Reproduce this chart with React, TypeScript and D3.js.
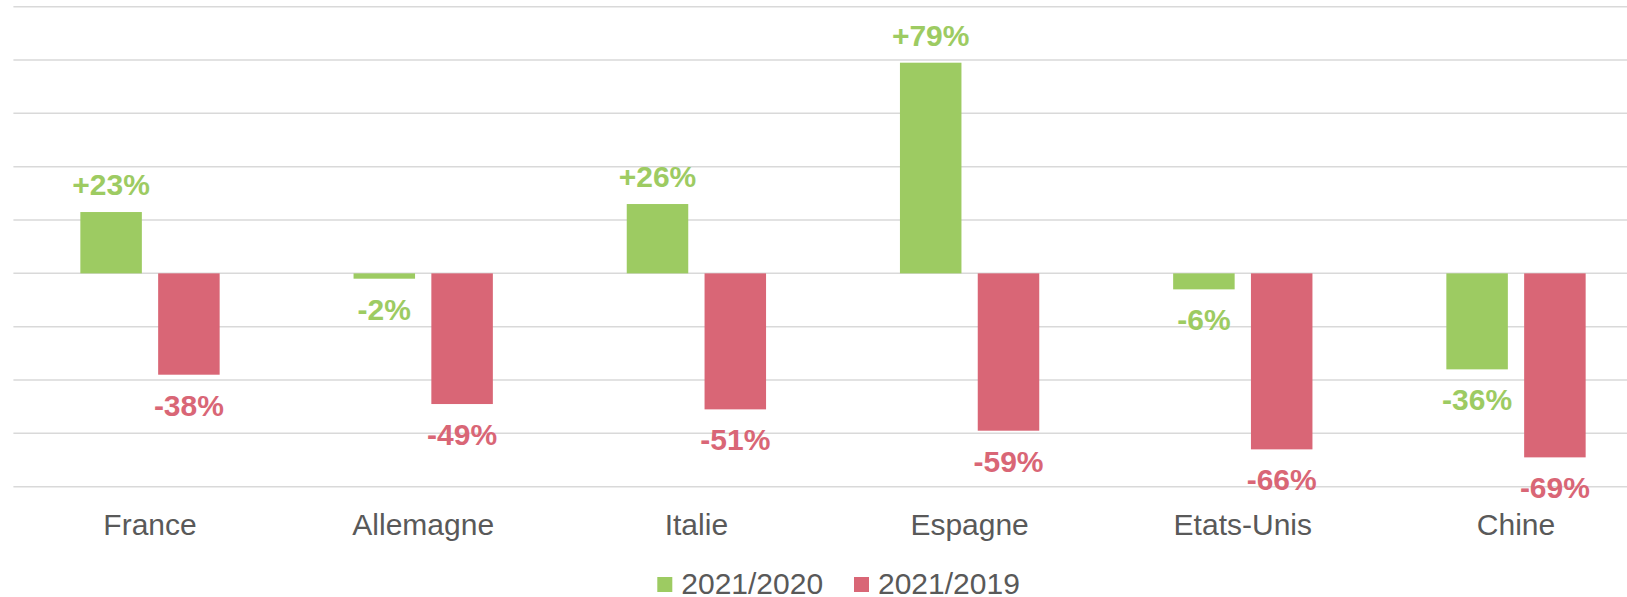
import React from "react";
import * as d3 from "d3";

const categories = ["France", "Allemagne", "Italie", "Espagne", "Etats-Unis", "Chine"];
const series = ["2021/2020", "2021/2019"];
const values2020 = [23, -2, 26, 79, -6, -36];
const values2019 = [-38, -49, -51, -59, -66, -69];
const yTicks = [-80, -60, -40, -20, 0, 20, 40, 60, 80, 100];

const colors: Record<string, string> = { "2021/2020": "#9DCB62", "2021/2019": "#D96676" };

const W = 1627;
const H = 597;

export default function App() {
  const x0 = d3.scaleBand<string>().domain(categories).range([13.4, 1652.6]).padding(0);
  const groupW = 139.3;
  const x1 = d3
    .scaleBand<string>()
    .domain(series)
    .range([-groupW / 2, groupW / 2])
    .paddingInner(0.2095)
    .paddingOuter(0);
  const y = d3.scaleLinear().domain([-80, 100]).range([486.7, 6.7]);

  const data = categories.map((c, i) => ({
    cat: c,
    vals: [
      { s: series[0], v: values2020[i] },
      { s: series[1], v: values2019[i] },
    ],
  }));

  const fmt = (v: number) => (v > 0 ? `+${v}%` : `${v}%`);
  const font = "'Liberation Sans', Arial, sans-serif";

  return (
    <svg
      width={W}
      height={H}
      style={{ position: "absolute", left: 0, top: 0, background: "#fff" }}
      fontFamily={font}
    >
      {yTicks.map((t) => (
        <line key={t} x1={13.4} x2={W} y1={y(t)} y2={y(t)} stroke="#D9D9D9" strokeWidth={1.5} />
      ))}
      {data.map((d) => {
        const cx = (x0(d.cat) as number) + x0.bandwidth() / 2;
        return (
          <g key={d.cat}>
            {d.vals.map((b) => {
              const bx = cx + (x1(b.s) as number);
              const yTop = y(Math.max(0, b.v));
              const yBot = y(Math.min(0, b.v));
              const lx = bx + x1.bandwidth() / 2;
              const ly = b.v >= 0 ? yTop - 17 : yBot + 41;
              return (
                <g key={b.s}>
                  <rect x={bx} y={yTop} width={x1.bandwidth()} height={yBot - yTop} fill={colors[b.s]} />
                  <text
                    x={lx}
                    y={ly}
                    textAnchor="middle"
                    fontSize={30}
                    fontWeight="bold"
                    fill={colors[b.s]}
                  >
                    {fmt(b.v)}
                  </text>
                </g>
              );
            })}
            <text x={cx} y={535} textAnchor="middle" fontSize={30} fill="#595959">
              {d.cat}
            </text>
          </g>
        );
      })}
      {series.map((s, i) => {
        const lx = 657.3 + i * 196.7;
        return (
          <g key={s}>
            <rect x={lx} y={577} width={15} height={15} fill={colors[s]} />
            <text x={lx + 24} y={594} fontSize={30} fill="#595959">
              {s}
            </text>
          </g>
        );
      })}
    </svg>
  );
}
